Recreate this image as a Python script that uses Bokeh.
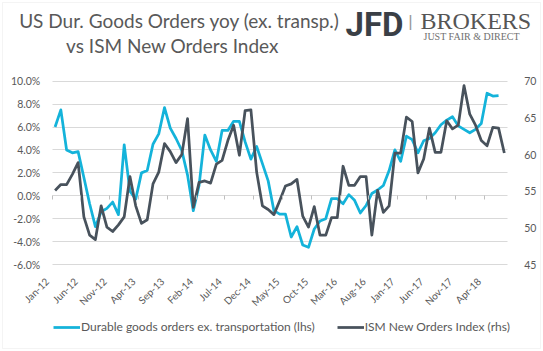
import math
from bokeh.plotting import figure
from bokeh.models import (Range1d, LinearAxis, FixedTicker, PrintfTickFormatter,
                          Legend, LegendItem, Label, BoxAnnotation)
from bokeh.embed import file_html
from bokeh.resources import INLINE

# ---- data (monthly, Jan-12 .. Jul-18) ----
tick_labels = ["Jan-12", "Jun-12", "Nov-12", "Apr-13", "Sep-13", "Feb-14", "Jul-14", "Dec-14",
               "May-15", "Oct-15", "Mar-16", "Aug-16", "Jan-17", "Jun-17", "Nov-17", "Apr-18"]
n_months = 79  # Jan-12 .. Jul-18

durable = [6.0, 7.5, 4.0, 3.75, 3.85, 1.6, -0.7, -2.7, -1.4, -1.1, -0.55, -1.65,
           4.45, 0.4, -0.3, 2.0, 2.2, 4.5, 5.4, 7.7, 5.9, 5.0, 3.95, 1.8,
           -1.3, 0.9, 5.3, 4.0, 3.0, 5.7, 5.7, 6.5, 6.5, 4.7, 3.2, 4.3,
           2.8, 1.3, -1.3, -1.6, -1.6, -3.6, -2.7, -4.3, -4.5, -2.9, -2.2, -2.0,
           -0.26, -0.26, -0.7, 0.1, -0.4, -1.5, -0.85, 0.2, 0.5, 0.9, 2.2, 4.0,
           3.0, 5.2, 4.9, 3.75, 4.8, 5.0, 5.5, 6.2, 6.6, 6.9, 6.1, 5.8,
           5.5, 5.8, 6.3, 8.95, 8.7, 8.75]

ism = [55.1, 55.9, 55.9, 57.3, 58.9, 51.5, 49.0, 48.4, 53.0, 50.1, 49.5, 50.4,
       51.5, 57.0, 53.0, 50.6, 51.1, 56.0, 57.6, 61.5, 60.4, 58.9, 60.0, 64.9,
       52.8, 56.2, 56.4, 56.1, 58.7, 59.2, 61.9, 64.0, 59.9, 66.0, 66.1, 57.6,
       53.0, 52.5, 51.8, 53.7, 55.7, 56.0, 56.6, 51.6, 50.1, 52.9, 49.0, 49.0,
       51.4, 51.4, 58.4, 55.8, 55.8, 57.0, 57.0, 49.0, 55.1, 52.1, 53.0, 60.2,
       60.2, 65.1, 64.5, 57.5, 59.4, 63.6, 60.3, 60.3, 64.6, 63.5, 64.0, 69.4,
       65.5, 64.0, 61.9, 61.2, 63.7, 63.6, 60.2]

lhs_min, lhs_max, lhs_step = -6, 10, 2
rhs_min, rhs_max, rhs_step = 45, 70, 5

CYAN = "#14B3DA"
DARK = "#48525C"
TXT = "#595959"
GRID = "#D9D9D9"
FONT = "Lato"

# ---- layout geometry (pixels) ----
W, H = 543, 351
PX_L, PX_R = 51.7, 506.7      # plot area left / right
PX_T, PX_B = 80.7, 264.0      # plot area top / bottom
LABEL_DX = -8                 # horizontal shift of the rotated month labels (px)

x0, x1 = -0.5, n_months - 0.5
ux = (x1 - x0) / (PX_R - PX_L)
uy = (lhs_max - lhs_min) / (PX_B - PX_T)
ur = (rhs_max - rhs_min) / (PX_B - PX_T)

p = figure(width=W, height=H, output_backend="svg", toolbar_location=None,
           x_range=Range1d(x0 - PX_L * ux, x1 + (W - PX_R) * ux),
           y_range=Range1d(lhs_min - (H - PX_B) * uy, lhs_max + PX_T * uy),
           x_axis_type=None, y_axis_type=None, min_border=0)
p.outline_line_color = None
p.background_fill_color = "white"
p.border_fill_color = "white"
p.extra_y_ranges = {"ism": Range1d(rhs_min - (H - PX_B) * ur, rhs_max + PX_T * ur)}


def style(ax, size="10px"):
    ax.axis_line_color = None
    ax.minor_tick_line_color = None
    ax.major_label_text_font = FONT
    ax.major_label_text_font_size = size
    ax.major_label_text_color = TXT


# left axis: labels + horizontal gridlines (inward ticks across the plot area)
ya = LinearAxis(fixed_location=x0, ticker=FixedTicker(ticks=list(range(lhs_min, lhs_max + 1, lhs_step))),
                formatter=PrintfTickFormatter(format="%.1f%%"), level="underlay")
style(ya, "10.5px")
ya.major_tick_out = 0
ya.major_tick_in = int(round(PX_R - PX_L))
ya.major_tick_line_color = GRID
ya.major_label_standoff = 12
p.add_layout(ya, "left")

# right axis
ra = LinearAxis(y_range_name="ism", fixed_location=x1,
                ticker=FixedTicker(ticks=list(range(rhs_min, rhs_max + 1, rhs_step))))
style(ra, "10.5px")
ra.major_tick_line_color = None
ra.major_label_standoff = 11
p.add_layout(ra, "right")

# bottom month labels (low position)
label_pos = [5 * k + LABEL_DX * ux for k in range(len(tick_labels))]
xa = LinearAxis(fixed_location=lhs_min, ticker=FixedTicker(ticks=label_pos))
xa.major_label_overrides = {v: t for v, t in zip(label_pos, tick_labels)}
xa.major_label_orientation = math.pi / 4
style(xa, "10px")
xa.major_tick_line_color = None
xa.major_label_standoff = 9
p.add_layout(xa, "below")

# category tick marks on the zero line
za = LinearAxis(fixed_location=0, ticker=FixedTicker(ticks=[5 * k - 0.5 for k in range(len(tick_labels))]))
style(za)
za.major_label_text_color = None
za.major_tick_in = 0
za.major_tick_out = 4
za.major_tick_line_color = "#BFBFBF"
p.add_layout(za, "below")

r1 = p.line(list(range(len(durable))), durable, line_color=CYAN, line_width=2.75, line_join="round")
r2 = p.line(list(range(len(ism))), ism, y_range_name="ism", line_color=DARK, line_width=2.75,
            line_join="round")

legend = Legend(items=[LegendItem(label="Durable goods orders ex. transportation (lhs)", renderers=[r1]),
                       LegendItem(label="ISM New Orders Index (rhs)", renderers=[r2])],
                orientation="horizontal", location=(53, H - 334), glyph_width=27, glyph_height=14,
                label_height=14, label_standoff=1, spacing=22, padding=0, margin=0,
                border_line_color=None, background_fill_alpha=0,
                label_text_font=FONT, label_text_font_size="12px", label_text_color=TXT)
p.add_layout(legend)


def lab(x, y, text, **kw):
    p.add_layout(Label(x=x, y=H - y, x_units="screen", y_units="screen", text=text,
                       text_baseline="middle", **kw))


# title
lab(179, 20, "US Dur. Goods Orders yoy (ex. transp.)", text_align="center",
    text_font=FONT, text_font_size="19px", text_color=TXT)
lab(172, 45, "vs ISM New Orders Index", text_align="center",
    text_font=FONT, text_font_size="19px", text_color=TXT)

# logo
lab(345, 24, "JFD", text_align="left", text_font="Roboto", text_font_style="bold",
    text_font_size="33px", text_color="#3A3F46")
lab(410, 21, "|", text_align="center", text_font="Liberation Sans", text_font_size="17px",
    text_color="#9A9A9A")
lab(420, 20, "BROKERS", text_align="left", text_font="Liberation Serif",
    text_font_size="24px", text_color="#555555")
lab(423, 36, "JUST FAIR & DIRECT", text_align="left", text_font="Liberation Serif",
    text_font_size="10px", text_color="#707070")

# chart border
p.add_layout(BoxAnnotation(left=2, right=W - 3, top=H - 2, bottom=H - 348,
                           left_units="screen", right_units="screen",
                           top_units="screen", bottom_units="screen",
                           fill_alpha=0, line_color=GRID, line_width=1, level="underlay"))

open("out.html", "w").write(file_html(p, INLINE))
